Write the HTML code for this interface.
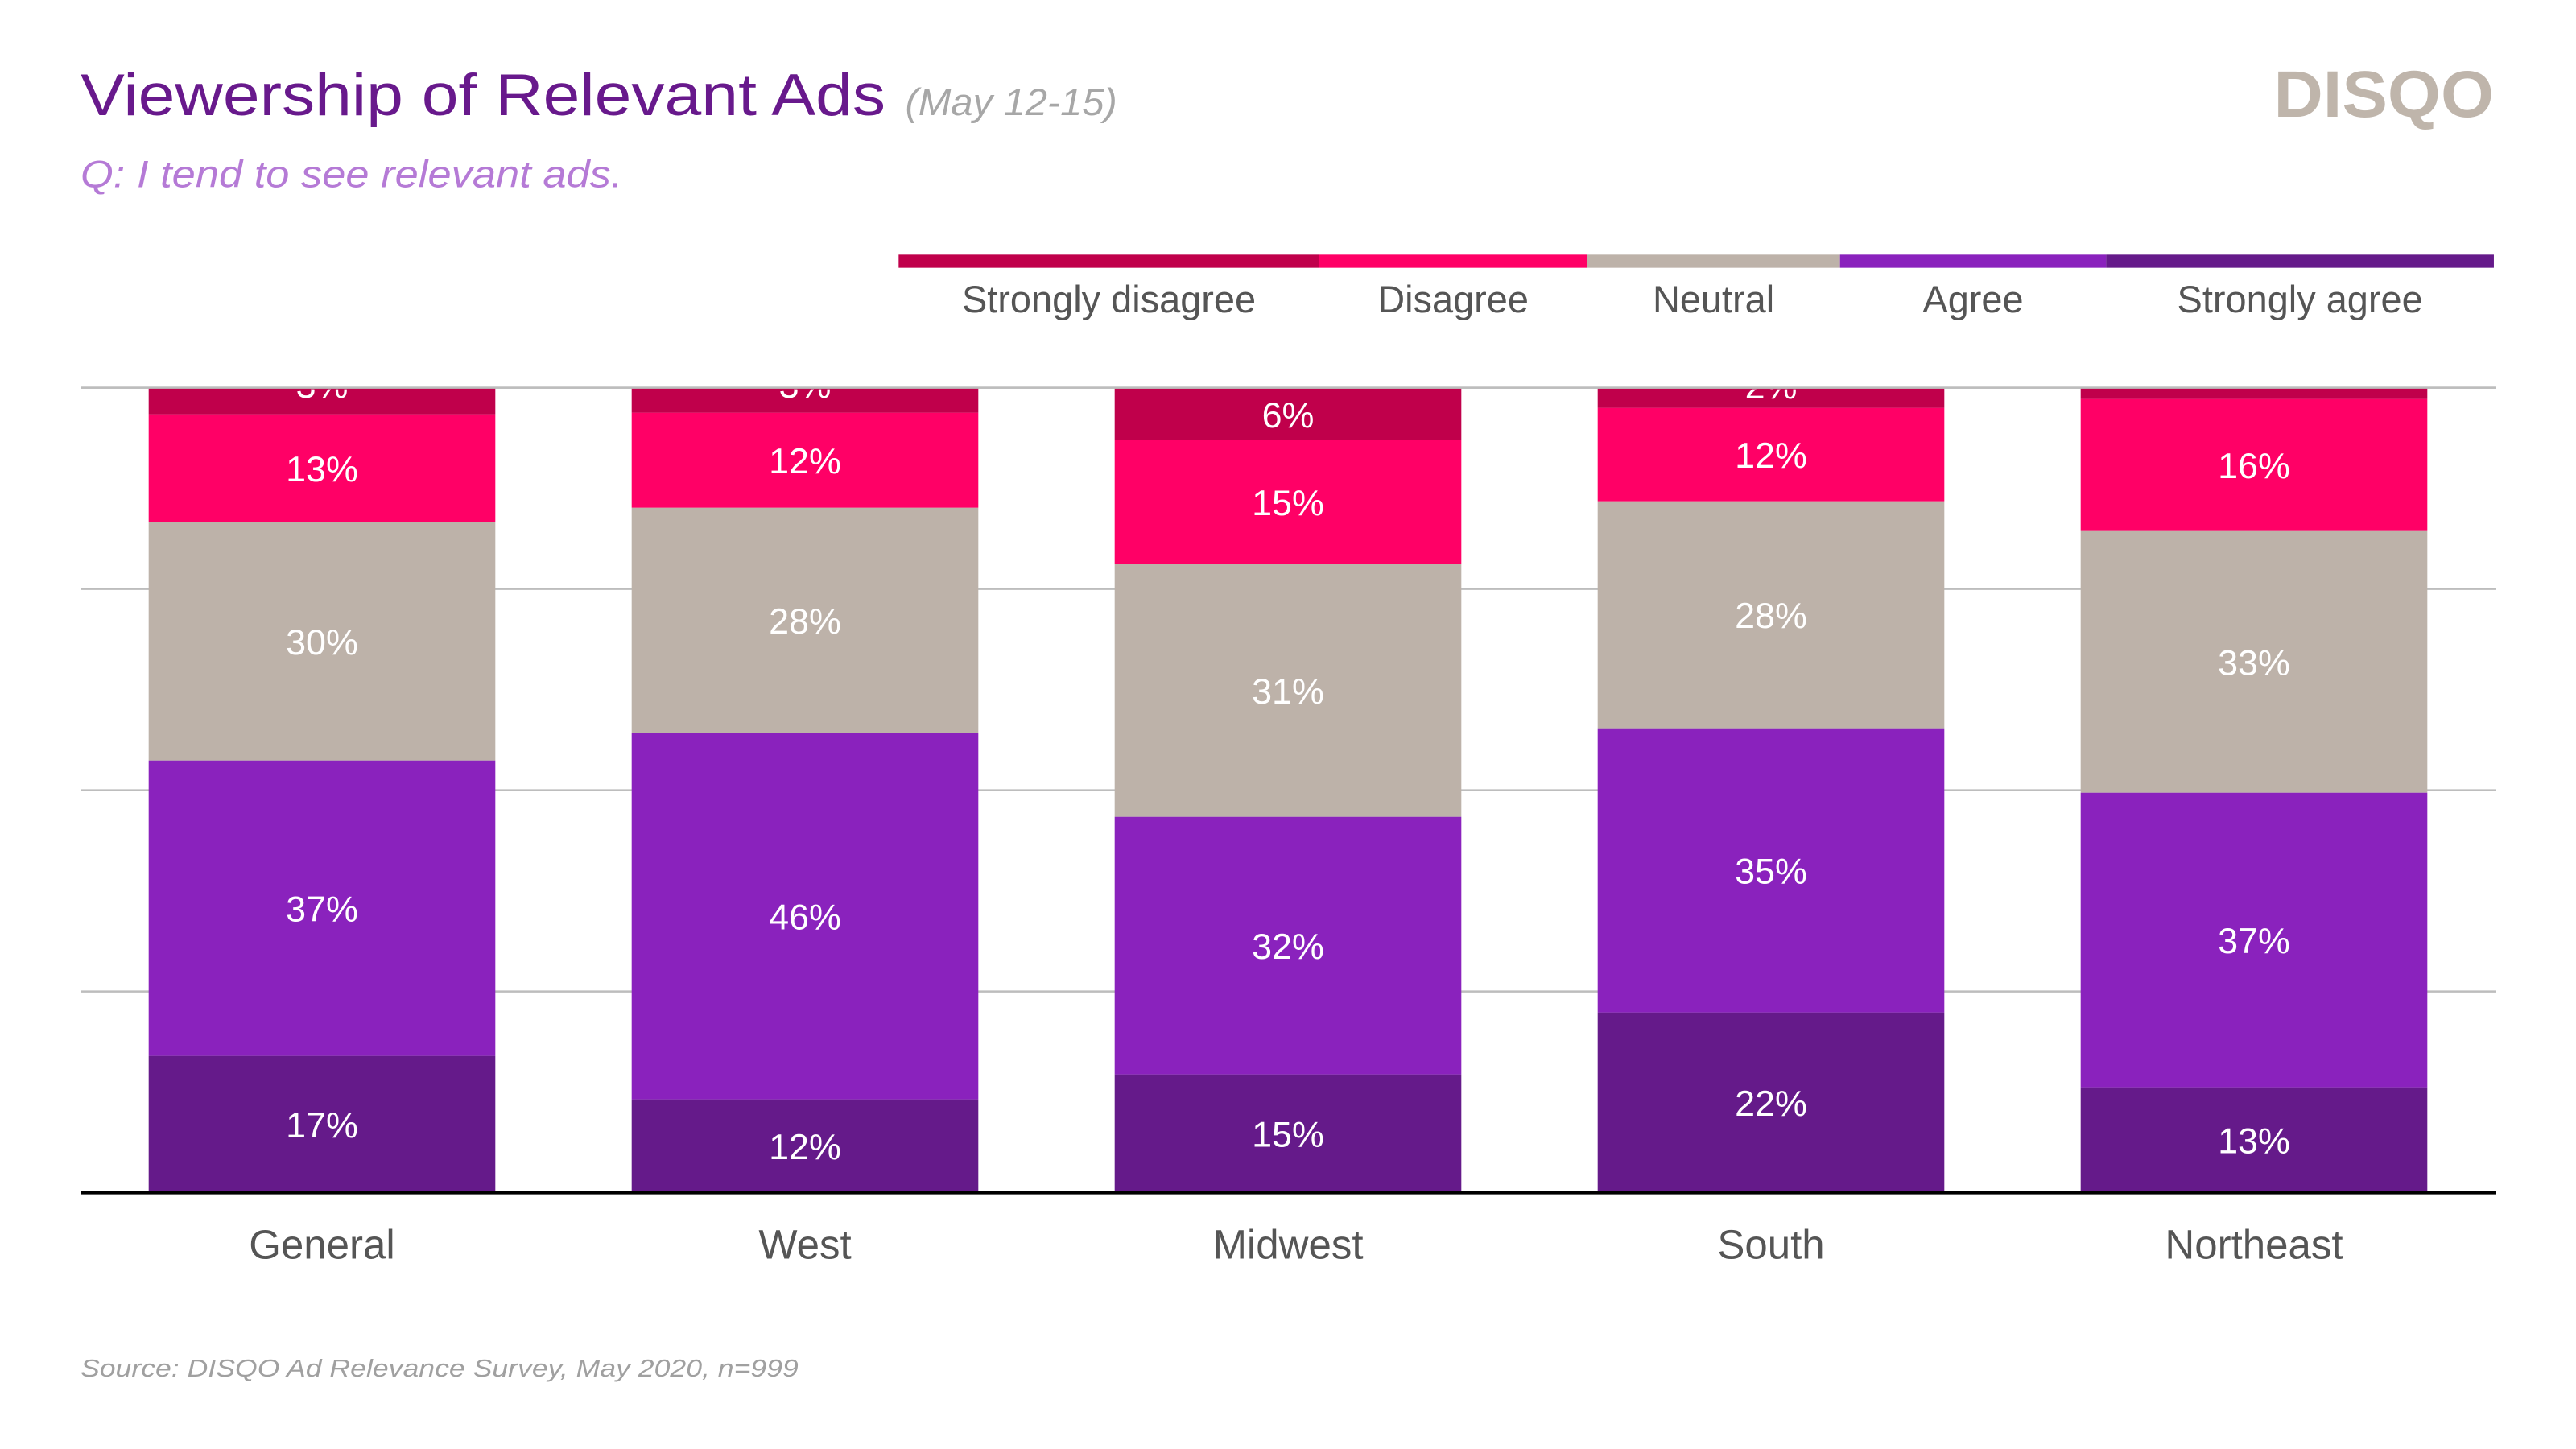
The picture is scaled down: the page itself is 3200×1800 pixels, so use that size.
<!DOCTYPE html>
<html><head><meta charset="utf-8"><style>
html,body{margin:0;padding:0;background:#fff;}
svg{display:block;font-family:"Liberation Sans",sans-serif;}
</style></head><body>
<svg id="chart" width="3200" height="1800" viewBox="0 0 1568 882" xmlns="http://www.w3.org/2000/svg">
  <defs><clipPath id="plotclip"><rect x="0" y="237" width="1568" height="490"/></clipPath></defs>
  <rect x="0" y="0" width="1568" height="882" fill="#fff"/>
  <text x="49" y="70" font-size="36" fill="#68198c" textLength="490" lengthAdjust="spacingAndGlyphs">Viewership of Relevant Ads</text>
  <text x="551" y="70" font-size="23" font-style="italic" fill="#a7a7a7" textLength="129" lengthAdjust="spacingAndGlyphs">(May 12-15)</text>
  <text x="1384" y="71" font-size="40" font-weight="bold" fill="#bfb5ab" textLength="134" lengthAdjust="spacingAndGlyphs">DISQO</text>
  <text x="49" y="114" font-size="23" font-style="italic" fill="#b57ad6" textLength="330" lengthAdjust="spacingAndGlyphs">Q: I tend to see relevant ads.</text>
  <g id="legend"></g>
  <g id="grid"></g>
  <g id="bars"></g>
  <g id="labels" clip-path="url(#plotclip)"></g>
  <g id="xaxis"></g>
  <text x="49" y="838" font-size="15" font-style="italic" fill="#a0a0a0" textLength="437" lengthAdjust="spacingAndGlyphs">Source: DISQO Ad Relevance Survey, May 2020, n=999</text>
</svg>
<script>
const categories = ["General", "West", "Midwest", "South", "Northeast"];
const seriesNames = ["Strongly agree", "Agree", "Neutral", "Disagree", "Strongly disagree"];
const stronglyAgree = [17, 11.6, 14.7, 22.4, 13.1];
const agree = [36.7, 45.5, 32, 35.3, 36.6];
const neutral = [29.6, 28, 31.4, 28.2, 32.5];
const disagree = [13.4, 11.8, 15.4, 11.6, 16.4];
const stronglyDisagree = [3.3, 3.1, 6.4, 2.4, 1.4];
const gridTicks = [0, 25, 50, 75, 100];

const series = [stronglyAgree, agree, neutral, disagree, stronglyDisagree];
const colors = ["#651a8a", "#8a22bd", "#bdb2a9", "#ff0066", "#c0004b"];
const NS = "http://www.w3.org/2000/svg";
const plotTop = 236, plotBottom = 726, plotLeft = 49, plotRight = 1519;
const step = (plotRight - plotLeft) / categories.length;
const barW = 211;
function y(v){ return plotBottom - v / 100 * (plotBottom - plotTop); }
function xCenter(i){ return plotLeft + step * (i + 0.5); }
function mk(tag, attrs, parent){ const e=document.createElementNS(NS,tag); for(const k in attrs) e.setAttribute(k,attrs[k]); parent.appendChild(e); return e; }

// legend
const legend = document.getElementById('legend');
const legX = [547, 803, 966, 1120, 1282, 1518];
const legOrder = [4,3,2,1,0];
legOrder.forEach((s, j) => {
  const g = mk('g', {}, legend);
  
  
  mk('rect', {x:legX[j], y:155, width:legX[j+1]-legX[j], height:8, fill:colors[s]}, g);
  const t = mk('text', {x:(legX[j]+legX[j+1])/2, y:190, 'font-size':23, fill:'#555', 'text-anchor':'middle'}, g);
  t.textContent = seriesNames[s];
});

// grid
const grid = document.getElementById('grid');
gridTicks.forEach(v => {
  if (v === 0) return;
  const l = mk('line', {x1:plotLeft, x2:plotRight, y1:y(v), y2:y(v), stroke:'#bdbdbd', 'stroke-width':1.2}, grid);
  
  
});

// bars
const bars = document.getElementById('bars');
const labels = document.getElementById('labels');
categories.forEach((c, i) => {
  let base = 0;
  series.forEach((arr, s) => {
    const v = arr[i];
    const r = mk('rect', {x:xCenter(i)-barW/2, y:y(base+v), width:barW, height:y(base)-y(base+v), fill:colors[s]}, bars);
    
    
    if (v >= 2) {
      let ly = (y(base)+y(base+v))/2 + 8;
      if (v < 5) ly = y(base+v) + 6;
      const t = mk('text', {x:xCenter(i), y:ly, 'font-size':22, fill:'#fff', 'text-anchor':'middle'}, labels);
      
      
      t.textContent = Math.round(v) + '%';
    }
    base += v;
  });
});
mk('line', {x1:plotLeft, x2:plotRight, y1:plotTop, y2:plotTop, stroke:'#bdbdbd', 'stroke-width':1.2}, bars);

// x axis
const xa = document.getElementById('xaxis');
mk('line', {x1:plotLeft, x2:plotRight, y1:plotBottom, y2:plotBottom, stroke:'#000', 'stroke-width':2}, xa);
categories.forEach((c, i) => {
  const t = mk('text', {x:xCenter(i), y:766, 'font-size':25, fill:'#555', 'text-anchor':'middle'}, xa);
  
  
  t.textContent = c;
});
</script>
</body></html>
